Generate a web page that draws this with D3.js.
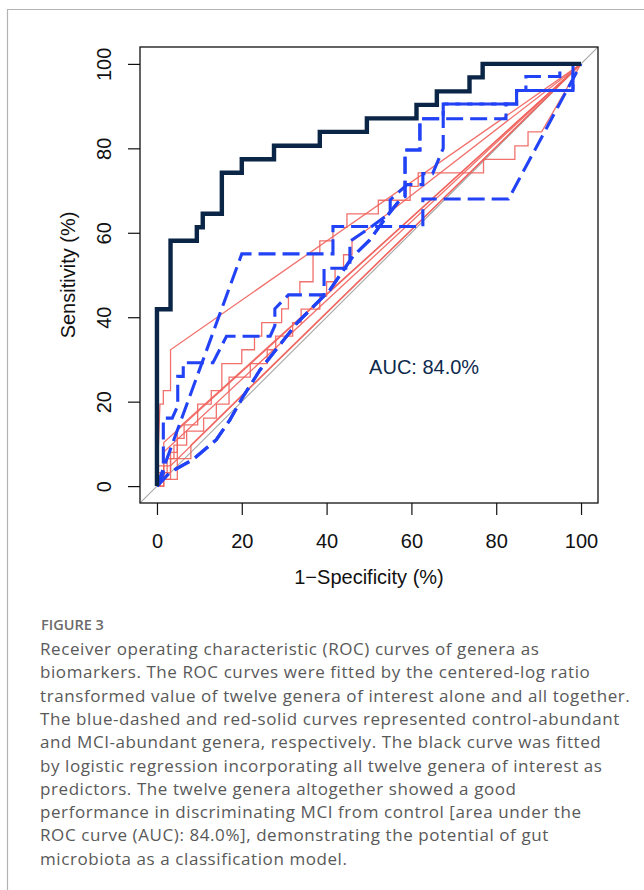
<!DOCTYPE html>
<html>
<head>
<meta charset="utf-8">
<script src="https://cdn.jsdelivr.net/npm/d3@7"></script>
<style>
  body { margin: 0; background: #fff; }
  svg { display: block; }
</style>
</head>
<body>
<svg id="fig" width="644" height="890"></svg>
<script>
// ---- data (percent, [1-specificity, sensitivity]) ----
var xTicks = [0, 20, 40, 60, 80, 100];
var yTicks = [0, 20, 40, 60, 80, 100];

// logistic regression with all twelve genera
var blackCurve = [[0,0],[0,41.9],[3.2,41.9],[3.2,58.1],[9.4,58.1],[9.4,61.3],[10.8,61.3],[10.8,64.5],
  [15.3,64.5],[15.3,74.2],[20,74.2],[20,77.4],[27.6,77.4],[27.6,80.6],[38.4,80.6],[38.4,83.9],
  [49.5,83.9],[49.5,87.1],[61.2,87.1],[61.2,90.3],[66,90.3],[66,93.5],[73.7,93.5],[73.7,96.8],
  [76.8,96.8],[76.8,100],[100,100]];

// control-abundant genera (blue dashed)
var blueA = [[0,0],[20,55],[41.5,55],[41.5,61.5],[62.7,61.5],[62.7,68],[82.9,68],[100,100]];
var blueB = [[0,0],[1.5,3],[1.5,16.1],[3.6,16.1],[4.9,19],[4.9,26],[6.2,26],[6.2,29.2],[13.2,29.2],
  [16.4,35.5],[26.7,35.5],[27.8,38],[27.8,42],[31,45.3],[39.4,45.3],[39.4,51.6],[45.5,51.6],[45.5,58],
  [50,61],[55,64.7],[55,67.8],[59,71.4],[62.7,71.4],[62.7,74],[65,74],[67.5,80],[67.5,90.5],
  [84.8,90.5],[84.8,93.7],[98.1,93.7],[98.1,100],[100,100]];
var blueC = [[0,0],[3,3.2],[8.5,6.3],[14,11],[17.2,15.7],[20.3,21.2],[24.3,27.5],[33,38.6],[40.8,46.5],
  [46.2,54.4],[50.2,58.3],[54.2,63.9],[57.3,67.8],[58.5,68.6],[58.5,79.6],[62,79.6],[62,87],
  [82.3,87],[82.3,90.5],[84.8,90.5],[84.8,93.7],[87,93.7],[87,97],[95,97],[95,100],[100,100]];
var blueD = [[0,0],[3,3.2],[8.5,6.3],[14,11],[17.2,15.7],[20.3,21.2],[24.3,27.5],[33,38.6],[40.8,46.5],
  [46.2,54.4],[50.2,58.3],[54.2,63.9],[57.3,67.8],[58.5,68.6],[58.5,79.6],[62,79.6],[62,87],
  [67.5,87],[67.5,90.5],[84.8,90.5],[84.8,93.7],[98.1,93.7],[98.1,100],[100,100]];
var blueCurves = [blueA, blueB, blueC, blueD];

// MCI-abundant genera (red solid)
var redA = [[0,0],[0.7,19.4],[1.5,19.4],[1.5,22.6],[3.2,22.6],[3.2,32.3],[100,100]];
var redB = [[0,0],[0,1.6],[1.6,1.6],[1.6,4.8],[3.2,4.8],[3.2,8],[4.8,8],[4.8,11.3],[6.4,11.3],
  [6.4,14.5],[9.6,14.5],[9.6,19.4],[12.8,19.4],[12.8,22.6],[15.3,22.6],[15.3,29],[20,29],[20,32.3],
  [23,32.3],[23,35.5],[24.7,35.5],[24.7,38.7],[29.4,38.7],[29.4,42],[31,42],[31,45.2],[33.7,45.2],
  [33.7,48.4],[36.8,48.4],[36.8,55.2],[38.4,55.2],[38.4,58.1],[41.5,58.1],[41.5,61.3],[44.8,61.3],
  [44.8,64.5],[52.2,64.5],[52.2,67.7],[59.7,67.7],[59.7,71],[61.6,71],[61.6,74.2],[77,74.2],
  [77,77.4],[84.4,77.4],[84.4,80.6],[87.5,80.6],[87.5,83.9],[90.7,83.9],[100,100]];
var redC = [[0,0],[0.8,0],[0.8,3.2],[2.4,3.2],[2.4,6.5],[4,6.5],[4,9.7],[7,9.7],[7,13],[11,13],
  [11,16.1],[14,16.1],[14,19.4],[17,19.4],[17,25.8],[22,25.8],[22,29],[26,29],[26,32.3],[28,32.3],
  [28,35.5],[32,35.5],[32,38.7],[34,38.7],[34,41.9],[38.4,41.9],[38.4,45],[40,45],[40,48.4],
  [42,48.4],[42,51.6],[44,51.6],[44,54.8],[46,54.8],[46,58],[100,100]];
var redD = [[0,0],[0,4.8],[1.6,4.8],[1.6,10.3],[100,100]];
var redE = [[0,0],[0,3.2],[1.6,3.2],[1.6,8.1],[100,100]];
var redF = [[0,0],[1.6,0],[1.6,3.2],[3.2,3.2],[3.2,6.5],[4.8,6.5],[4.8,13.5],[100,100]];
var redG = [[0,0],[0,1.6],[3.2,1.6],[3.2,4.8],[100,100]];
var redH = [[0,0],[1.6,0],[1.6,1.6],[4.8,1.6],[4.8,6.5],[8,6.5],[8,9.7],[100,100]];
var redCurves = [redA, redB, redC, redD, redE, redF, redG, redH];

var aucNote = { label: "AUC: 84.0%", x: 63, y: 28.2 };

var captionHead = "FIGURE 3";
var captionLines = [
  "Receiver operating characteristic (ROC) curves of genera as",
  "biomarkers. The ROC curves were fitted by the centered-log ratio",
  "transformed value of twelve genera of interest alone and all together.",
  "The blue-dashed and red-solid curves represented control-abundant",
  "and MCI-abundant genera, respectively. The black curve was fitted",
  "by logistic regression incorporating all twelve genera of interest as",
  "predictors. The twelve genera altogether showed a good",
  "performance in discriminating MCI from control [area under the",
  "ROC curve (AUC): 84.0%], demonstrating the potential of gut",
  "microbiota as a classification model."
];

// ---- layout ----
var svg = d3.select("#fig");
var box = { left: 140, right: 598, top: 47, bottom: 503 };
var font = "'Liberation Sans', Arial, Helvetica, sans-serif";

// card border
svg.append("path")
  .attr("d", "M7.5,890 V9.5 H644")
  .attr("fill", "none").attr("stroke", "#b3b3b3").attr("stroke-width", 1.2);

var x = d3.scaleLinear().domain([-4, 104]).range([box.left, box.right]);
var y = d3.scaleLinear().domain([-4, 104]).range([box.bottom, box.top]);

svg.append("clipPath").attr("id", "plotclip")
  .append("rect")
  .attr("x", box.left).attr("y", box.top)
  .attr("width", box.right - box.left).attr("height", box.bottom - box.top);

var plot = svg.append("g").attr("clip-path", "url(#plotclip)");

var line = d3.line()
  .x(function (d) { return x(d[0]) })
  .y(function (d) { return y(d[1]) });

// chance diagonal
plot.append("path")
  .attr("d", line([[-4, -4], [104, 104]]))
  .attr("stroke", "#a6a6a6").attr("stroke-width", 1.1).attr("fill", "none");

plot.selectAll(".red")
  .data(redCurves)
  .enter().append("path")
  .attr("class", "red")
  .attr("d", line)
  .attr("fill", "none")
  .attr("stroke", "#f0625c")
  .attr("stroke-opacity", 0.9)
  .attr("stroke-width", 1.3);

plot.selectAll(".blue")
  .data(blueCurves)
  .enter().append("path")
  .attr("class", "blue")
  .attr("d", line)
  .attr("fill", "none")
  .attr("stroke", "#2242f6")
  .attr("stroke-width", 3.1)
  .attr("stroke-dasharray", "17,7");

plot.append("path")
  .attr("d", line(blackCurve))
  .attr("fill", "none")
  .attr("stroke", "#0b2546")
  .attr("stroke-width", 4.4)
  .attr("stroke-linejoin", "miter");

// box
svg.append("rect")
  .attr("x", box.left).attr("y", box.top)
  .attr("width", box.right - box.left).attr("height", box.bottom - box.top)
  .attr("fill", "none").attr("stroke", "#111").attr("stroke-width", 1.3);

// axes
var xAxis = svg.append("g")
  .attr("transform", "translate(0," + box.bottom + ")")
  .call(d3.axisBottom(x).tickValues(xTicks).tickSize(12).tickSizeOuter(0));
xAxis.select(".domain").remove();
xAxis.selectAll("line").attr("stroke", "#111").attr("stroke-width", 1.2);
xAxis.selectAll("text")
  .attr("y", 38).attr("dy", "0.35em")
  .style("font-family", font).style("font-size", "20px").attr("fill", "#111");

var yAxis = svg.append("g")
  .attr("transform", "translate(" + box.left + ",0)")
  .call(d3.axisLeft(y).tickValues(yTicks).tickSize(12).tickSizeOuter(0));
yAxis.select(".domain").remove();
yAxis.selectAll("line").attr("stroke", "#111").attr("stroke-width", 1.2);
yAxis.selectAll("text")
  .attr("x", null).attr("dy", "0.35em")
  .attr("text-anchor", "middle")
  .attr("transform", "translate(-36.5,0) rotate(-90)")
  .style("font-family", font).style("font-size", "20px").attr("fill", "#111");

svg.append("text")
  .attr("x", (box.left + box.right) / 2).attr("y", 577).attr("dy", "0.35em")
  .attr("text-anchor", "middle")
  .style("font-family", font).style("font-size", "20px").attr("fill", "#111")
  .text("1\u2212Specificity (%)");

svg.append("text")
  .attr("transform", "translate(68," + (box.top + box.bottom) / 2 + ") rotate(-90)")
  .attr("dy", "0.35em")
  .attr("text-anchor", "middle")
  .style("font-family", font).style("font-size", "20px").attr("fill", "#111")
  .text("Sensitivity (%)");

svg.append("text")
  .attr("x", x(aucNote.x)).attr("y", y(aucNote.y)).attr("dy", "0.35em")
  .attr("text-anchor", "middle")
  .style("font-family", font).style("font-size", "20px").attr("fill", "#0d2a4c")
  .text(aucNote.label);

// caption
var cap = svg.append("g").style("font-family", "'Open Sans', 'Noto Sans', sans-serif");
cap.append("text")
  .attr("x", 41).attr("y", 630)
  .style("font-size", "14.5px").style("font-weight", 600).attr("fill", "#6b6b6b")
  .text(captionHead);
cap.selectAll(".capline")
  .data(captionLines)
  .enter().append("text")
  .attr("class", "capline")
  .attr("x", 40)
  .attr("y", function (d, i) { return 655 + i * 23.3 })
  .style("font-size", "17px").style("letter-spacing", "0.58px").attr("fill", "#595959")
  .text(function (d) { return d });
</script>
</body>
</html>
